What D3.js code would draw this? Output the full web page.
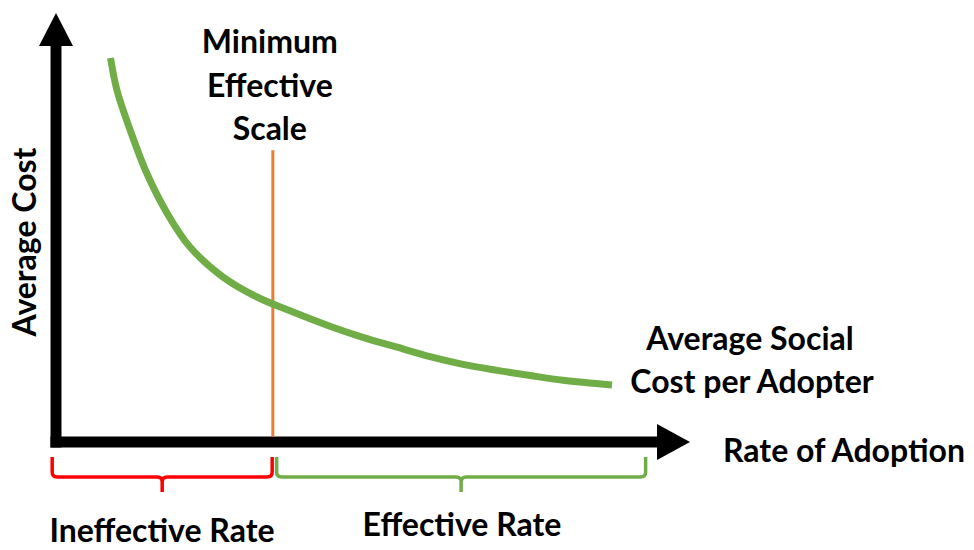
<!DOCTYPE html>
<html>
<head>
<meta charset="utf-8">
<script src="https://cdn.jsdelivr.net/npm/d3@7"></script>
<style>
  body { margin: 0; background: #fff; }
  svg { display: block; }
  .lbl { font-family: Lato, "Open Sans", sans-serif; font-weight: bold; fill: #000; }
</style>
</head>
<body>
<div id="chart"></div>
<script>
// average social cost per adopter (unitless 0-100)
var rate = [8.6, 9.6, 11.7, 14.3, 17.5, 21.1, 26.3, 31.7, 36.9, 43.2, 48.4, 53.8, 59.0, 64.2, 69.6, 74.8, 80.0, 87.7];
var avgCost = [89.5, 82.1, 72.7, 62.7, 53.4, 45.5, 38.5, 33.8, 30.6, 27.0, 24.4, 22.1, 19.9, 18.1, 16.7, 15.5, 14.4, 13.3];

var minEffScale = 34.2;      // orange marker
var markerTop = 68;
var braceNames = ['Ineffective Rate', 'Effective Rate'];
var braceFrom = [-0.6, 34.8];
var braceTo = [34.1, 93.0];
var braceColors = ['#ff0000', '#70ad47'];

var width = 974;
var height = 550;

var svg = d3.select('#chart').append('svg')
    .attr('width', width)
    .attr('height', height);

var x = d3.scaleLinear().domain([0, 100]).range([56, 690]);
var y = d3.scaleLinear().domain([0, 100]).range([442, 13]);

var axisW = 11;
var headW = 17;   // half width of arrow head
var headL = 33;

// axes as thick arrows
svg.append('rect')
    .attr('x', x(0) - axisW/2)
    .attr('y', y(100) + headL - 1)
    .attr('width', axisW)
    .attr('height', y(0) - y(100) - headL + axisW/2 + 1)
    .attr('fill', '#000');
svg.append('path')
    .attr('d', `M${x(0) - headW},${y(100) + headL}L${x(0)},${y(100)}L${x(0) + headW},${y(100) + headL}Z`)
    .attr('fill', '#000');

svg.append('rect')
    .attr('x', x(0) - axisW/2)
    .attr('y', y(0) - axisW/2)
    .attr('width', x(100) - headL - x(0) + axisW/2 + 1)
    .attr('height', axisW)
    .attr('fill', '#000');
svg.append('path')
    .attr('d', `M${x(100) - headL},${y(0) - headW - 1}L${x(100)},${y(0)}L${x(100) - headL},${y(0) + headW + 1}Z`)
    .attr('fill', '#000');

// minimum effective scale marker
svg.append('line')
    .attr('x1', x(minEffScale)).attr('x2', x(minEffScale))
    .attr('y1', y(markerTop)).attr('y2', y(0) - axisW/2)
    .attr('stroke', '#ed7d31')
    .attr('stroke-width', 3);

// cost curve
var line = d3.line()
    .x((d, i) => x(rate[i]))
    .y(d => y(d))
    .curve(d3.curveCatmullRom.alpha(0.5));

svg.append('path')
    .datum(avgCost)
    .attr('d', line)
    .attr('fill', 'none')
    .attr('stroke', '#70ad47')
    .attr('stroke-width', 7);

// braces under the x axis
var bTop = 457, bMid = 477, bTip = 492, r = 5;
braceNames.forEach((name, i) => {
    var x0 = x(braceFrom[i]), x1 = x(braceTo[i]), cx = (x0 + x1) / 2;
    var p = d3.path();
    p.moveTo(x0, bTop);
    p.lineTo(x0, bMid - r);
    p.quadraticCurveTo(x0, bMid, x0 + r, bMid);
    p.lineTo(cx - r, bMid);
    p.quadraticCurveTo(cx, bMid, cx, bMid + r);
    p.lineTo(cx, bTip);
    p.moveTo(cx, bMid + r);
    p.quadraticCurveTo(cx, bMid, cx + r, bMid);
    p.lineTo(x1 - r, bMid);
    p.quadraticCurveTo(x1, bMid, x1, bMid - r);
    p.lineTo(x1, bTop);
    svg.append('path')
        .attr('d', p.toString())
        .attr('fill', 'none')
        .attr('stroke', braceColors[i])
        .attr('stroke-width', 3.5);
});

// labels
var fs = 32;
function label(txt, px, py, anchor) {
    return svg.append('text')
        .attr('class', 'lbl')
        .attr('x', px)
        .attr('y', py)
        .attr('font-size', fs)
        .attr('text-anchor', anchor || 'middle')
        .text(txt);
}

label('Minimum', x(minEffScale) - 3, 53);
label('Effective', x(minEffScale) - 3, 97);
label('Scale', x(minEffScale) - 3, 140);

label('Average Social', 750, 350);
label('Cost per Adopter', 752, 393);

label('Rate of Adoption', 844, 462);

label('Ineffective Rate', 162, 542);
label('Effective Rate', 462, 536);

svg.append('text')
    .attr('class', 'lbl')
    .attr('font-size', fs)
    .attr('text-anchor', 'middle')
    .attr('transform', 'translate(36,242)rotate(-90)')
    .text('Average Cost');
</script>
</body>
</html>
